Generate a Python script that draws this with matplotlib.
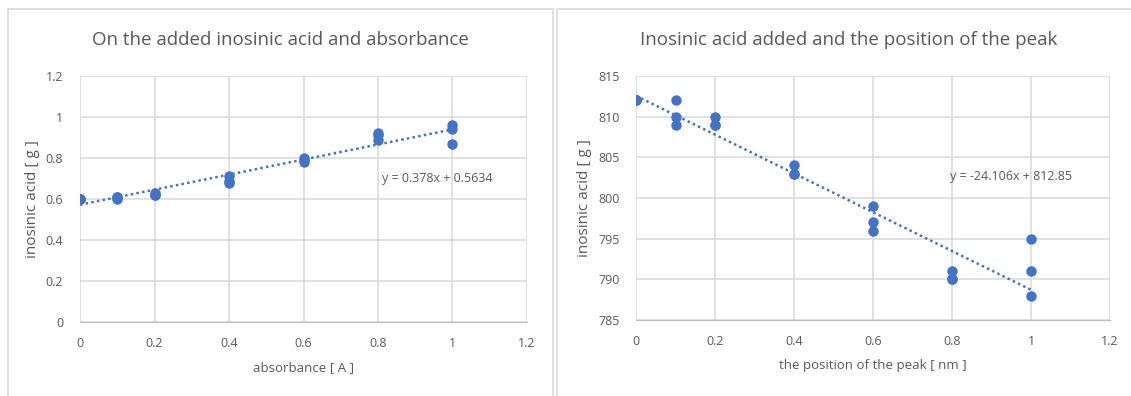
import numpy as np
import matplotlib
matplotlib.use("Agg")
import matplotlib.pyplot as plt
from matplotlib.patches import Rectangle

plt.rcParams["font.family"] = ["Open Sans", "DejaVu Sans"]

BLUE = "#4472C4"
GRAY_TXT = "#595959"
GRID = "#d9d9d9"

# left chart: inosinic acid vs absorbance
abs_x = [0, 0, 0, 0.1, 0.1, 0.1, 0.2, 0.2, 0.2, 0.4, 0.4, 0.4,
         0.6, 0.6, 0.6, 0.8, 0.8, 0.8, 1.0, 1.0, 1.0]
abs_y = [0.6, 0.6, 0.6, 0.6, 0.61, 0.61, 0.62, 0.62, 0.63, 0.68, 0.69, 0.71,
         0.78, 0.79, 0.80, 0.89, 0.91, 0.92, 0.87, 0.94, 0.96]

# right chart: inosinic acid vs peak position
peak_x = [0, 0, 0, 0.1, 0.1, 0.1, 0.2, 0.2, 0.2, 0.4, 0.4, 0.4,
          0.6, 0.6, 0.6, 0.8, 0.8, 0.8, 1.0, 1.0, 1.0]
peak_y = [812, 812, 812, 812, 810, 809, 810, 809, 809, 804, 803, 803,
          799, 797, 796, 791, 790, 790, 795, 791, 788]

W, H = 1131, 396
fig = plt.figure(figsize=(W / 100, H / 100), dpi=100)


def px_axes(x0, y0, x1, y1):
    return fig.add_axes([x0 / W, 1 - y1 / H, (x1 - x0) / W, (y1 - y0) / H])


# chart frames (right one runs off the image)
frames = [(7.5, 553), (556.5, 1140)]
for (fx0, fx1) in frames:
    fig.patches.append(Rectangle((fx0 / W, -0.1), (fx1 - fx0) / W, 1 - 9 / H + 0.1,
                                 transform=fig.transFigure, fill=False,
                                 edgecolor=GRID, linewidth=1.2))


def style(ax, ylim, yticks, yfmt):
    ax.set_xlim(0, 1.2)
    ax.set_ylim(*ylim)
    ax.set_xticks(np.arange(0, 1.21, 0.2))
    ax.set_xticklabels(["0", "0.2", "0.4", "0.6", "0.8", "1", "1.2"])
    ax.set_yticks(yticks)
    ax.set_yticklabels([yfmt(v) for v in yticks])
    ax.grid(True, color=GRID, linewidth=1.1)
    ax.set_axisbelow(True)
    for s in ["top", "right", "left"]:
        ax.spines[s].set_visible(False)
    ax.spines["bottom"].set_color("#bfbfbf")
    ax.tick_params(length=0, colors=GRAY_TXT, labelsize=9)
    ax.tick_params(axis="x", pad=11)
    ax.tick_params(axis="y", pad=12)


def draw(ax, x, y, eq, eq_xy):
    x = np.array(x)
    y = np.array(y)
    k, b = np.polyfit(x, y, 1)
    xs = np.array([0, 1.0])
    ax.plot(xs, k * xs + b, color=BLUE, linestyle=(0, (1, 1.3)), linewidth=1.8, zorder=2)
    ax.plot(x, y, "o", color=BLUE, markersize=6.5, zorder=3)
    ax.text(eq_xy[0], eq_xy[1], eq, color=GRAY_TXT, fontsize=9, va="center", ha="left")


ax1 = px_axes(80, 76, 527, 322)
style(ax1, (0, 1.2), np.arange(0, 1.21, 0.2),
      lambda v: "0" if v == 0 else ("1" if abs(v - 1) < 1e-9 else f"{v:.1f}"))
draw(ax1, abs_x, abs_y, "y = 0.378x + 0.5634", (0.81, 0.70))
ax1.set_xlabel("absorbance [ A ]", color=GRAY_TXT, fontsize=9.5, labelpad=8)
ax1.set_ylabel("inosinic acid [ g ]", color=GRAY_TXT, fontsize=11, labelpad=4)

ax2 = px_axes(636, 76, 1110, 320)
style(ax2, (785, 815), np.arange(785, 816, 5), lambda v: f"{int(v)}")
draw(ax2, peak_x, peak_y, "y = -24.106x + 812.85", (0.795, 802.7))
ax2.set_xlabel("the position of the peak [ nm ]", color=GRAY_TXT, fontsize=9.5, labelpad=8)
ax2.set_ylabel("inosinic acid [ g ]", color=GRAY_TXT, fontsize=11, labelpad=4)

titles = ["On the added inosinic acid and absorbance",
          "Inosinic acid added and the position of the peak"]
for (fx0, fx1), t in zip(frames, titles):
    fig.text((fx0 + fx1) / 2 / W, 1 - 40 / H, t, fontsize=13.5, color=GRAY_TXT,
             ha="center", va="center")

fig.savefig("out.png", dpi=100)
